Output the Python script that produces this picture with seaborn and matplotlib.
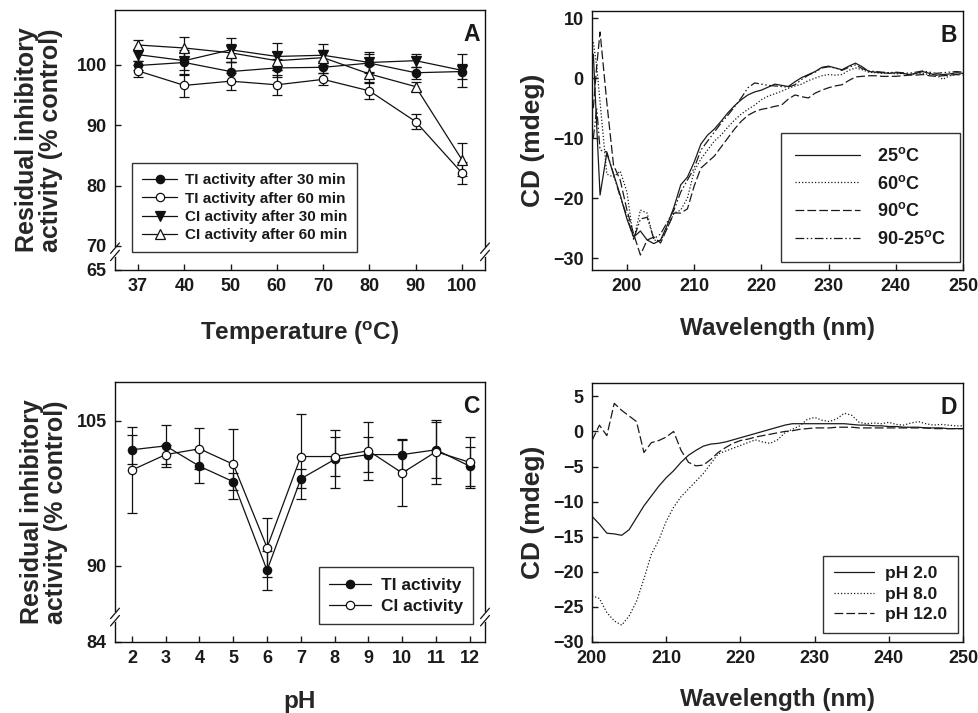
import numpy as np
import pandas as pd
import matplotlib
matplotlib.use("Agg")
import matplotlib.pyplot as plt
import seaborn as sns
from matplotlib.ticker import FixedLocator, FixedFormatter

sns.set_theme(style="ticks")
plt.rcParams['font.family'] = ['Liberation Sans', 'DejaVu Sans']
plt.rcParams.update({
    'font.weight': 'bold',
    'mathtext.fontset': 'custom',
    'mathtext.rm': 'Liberation Sans:bold',
    'mathtext.bf': 'Liberation Sans:bold',
    'mathtext.it': 'Liberation Sans:bold',
    'axes.linewidth': 1.0,
    'axes.edgecolor': '#111111',
    'xtick.direction': 'in',
    'ytick.direction': 'in',
    'xtick.major.size': 4,
    'ytick.major.size': 4,
    'text.color': '#1a1a1a',
    'xtick.color': '#1a1a1a',
    'ytick.color': '#1a1a1a',
})

# ---- Panel A: thermal stability ----
temps = ["37", "40", "50", "60", "70", "80", "90", "100"]
ti30 = [99.9, 100.4, 98.9, 99.5, 99.6, 100.3, 98.7, 98.9]
ti30_err = [0.8, 2.0, 1.5, 1.5, 1.0, 1.5, 1.0, 1.3]
ti60 = [99.0, 96.6, 97.3, 96.7, 97.6, 95.7, 90.6, 82.1]
ti60_err = [1.0, 1.9, 1.4, 1.7, 1.0, 1.4, 1.3, 1.8]
ci30 = [101.7, 100.7, 102.5, 101.4, 101.6, 100.4, 100.7, 99.1]
ci30_err = [1.0, 1.5, 2.0, 2.3, 1.8, 1.8, 1.1, 2.7]
ci60 = [103.3, 102.8, 102.0, 100.7, 101.2, 98.5, 96.4, 84.3]
ci60_err = [0.9, 1.8, 1.5, 1.5, 1.2, 1.5, 0.8, 2.7]

# ---- Panel B: CD spectra at temperatures ----
wl_b = [195, 195.5] + list(range(196, 251))
cd_25 = [4, -8, -19.5, -12.5, -16, -19.5, -23.5, -26.5, -25.5, -27, -27.6,
         -27, -24.5, -21.5, -17.8, -16.5, -14, -11, -9.5, -8.5, -7.2,
         -5.8, -4.6, -3.6, -2.8, -2.3, -2.0, -1.5, -1.0, -1.2, -1.4,
         -0.6, 0.1, 0.6, 1.1, 1.8, 2.0, 1.7, 1.4, 2.0, 2.5,
         1.9, 1.1, 1.0, 0.9, 0.8, 0.9, 0.8, 0.6, 0.8, 1.1,
         0.8, 0.5, 0.6, 0.7, 0.9, 0.8]
cd_60 = [6, 2, -4, -16, -16.5, -15.5, -19, -27, -22, -22.5, -27,
         -27.2, -25, -22.5, -22, -20, -15.5, -13.5, -12, -10.5, -9.5,
         -8.2, -7, -6, -5.2, -4.5, -3.6, -3.0, -2.6, -2.2, -1.7,
         -1.3, -1.0, -0.4, 0.0, 0.4, 0.6, 0.5, 0.6, 1.3, 1.7,
         1.4, 1.0, 0.9, 0.8, 0.9, 0.7, 0.8, 0.6, 0.7, 0.8,
         0.6, 0.5, -0.2, 0.4, 0.6, 0.7]
cd_90 = [-5, 2, 7.7, -4, -14.5, -17, -22, -26, -29.5, -27, -26.5,
         -27.5, -25, -22.5, -22.5, -21.8, -18, -15, -14, -13, -11.5,
         -10, -8.5, -7.2, -6.2, -5.6, -5.2, -5.0, -4.7, -4.5, -3.5,
         -2.8, -3.1, -3.3, -2.5, -2.0, -1.6, -1.3, -1.1, -0.4, 0.2,
         0.3, 0.4, 0.4, 0.3, 0.3, 0.3, 0.4, 0.5, 0.5, 0.6,
         0.4, 0.3, 0.4, 0.5, 0.6, 0.5]
cd_9025 = [-10, -5, -12, -12.3, -16, -19.8, -23, -26.8, -23.5, -23.2, -26.8,
           -26, -24, -22, -19, -17, -15, -12, -10.5, -9, -7.5,
           -6.2, -4.8, -3.3, -1.6, -0.8, -1.0, -1.2, -1.3, -1.4, -1.5,
           -1.1, -0.2, 0.5, 1.0, 1.7, 1.9, 1.7, 1.3, 1.8, 2.2,
           1.6, 1.2, 1.1, 1.0, 0.9, 1.0, 0.9, 0.8, 1.0, 1.2,
           1.0, 0.8, 0.9, 1.0, 1.1, 1.0]
temp_labels = ["25$^{o}$C", "60$^{o}$C", "90$^{o}$C", "90-25$^{o}$C"]

# ---- Panel C: pH stability ----
ph = [2, 3, 4, 5, 6, 7, 8, 9, 10, 11, 12]
ti_ph = [102.0, 102.4, 100.3, 98.7, 89.55, 99.0, 101.0, 101.5, 101.5, 102.0, 100.3]
ti_ph_err = [1.5, 2.2, 1.7, 0.9, 2.0, 1.0, 3.0, 1.8, 1.6, 2.9, 2.0]
ci_ph = [99.9, 101.5, 102.1, 100.5, 91.9, 101.3, 101.3, 101.9, 99.6, 101.8, 100.7]
ci_ph_err = [4.4, 1.0, 2.1, 3.6, 3.0, 4.4, 2.0, 3.0, 3.4, 3.3, 2.6]

# ---- Panel D: CD spectra at pH ----
wl_d = list(range(200, 251))
cd_ph2 = [-12.1, -13.2, -14.5, -14.6, -14.8, -14.0, -12.3, -10.6, -9.2, -7.8,
          -6.6, -5.6, -4.4, -3.4, -2.7, -2.1, -1.8, -1.7, -1.5, -1.2,
          -0.9, -0.6, -0.3, 0.0, 0.3, 0.6, 0.9, 1.1, 1.1, 1.1,
          1.1, 1.1, 1.1, 1.1, 1.1, 1.0, 0.9, 0.9, 0.8, 0.8,
          0.7, 0.7, 0.6, 0.6, 0.6, 0.5, 0.5, 0.5, 0.4, 0.4, 0.4]
cd_ph8 = [-23.4, -23.8, -25.8, -27.0, -27.6, -26.3, -24.2, -21.0, -17.5, -15.5,
          -12.8, -10.8, -9.3, -8.2, -7.1, -6.0, -4.6, -3.2, -2.8, -2.4,
          -2.0, -1.6, -1.2, -1.5, -1.7, -1.2, -0.2, 0.3, 0.8, 1.7,
          2.0, 1.6, 1.4, 1.8, 2.6, 2.3, 1.3, 1.1, 1.2, 1.1,
          1.3, 1.0, 0.9, 1.2, 1.4, 1.1, 0.9, 1.0, 0.9, 0.8, 0.8]
cd_ph12 = [-1.3, 0.9, -0.6, 4.0, 3.0, 2.2, 1.4, -3.0, -1.6, -1.3,
           -0.8, 0.0, -2.7, -4.4, -4.9, -4.8, -4.0, -3.0, -2.3, -1.7,
           -1.3, -1.1, -0.8, -0.6, -0.4, -0.2, 0.0, 0.1, 0.3, 0.4,
           0.5, 0.5, 0.5, 0.6, 0.6, 0.6, 0.5, 0.5, 0.5, 0.5,
           0.5, 0.5, 0.5, 0.5, 0.5, 0.5, 0.4, 0.4, 0.4, 0.4, 0.4]
ph_labels = ["pH 2.0", "pH 8.0", "pH 12.0"]


def broken(b, k):
    def fwd(v):
        v = np.asarray(v, float)
        return np.where(v >= b, v, b - (b - v) * k)

    def inv(u):
        u = np.asarray(u, float)
        return np.where(u >= b, u, b - (b - u) / k)
    return fwd, inv


def break_marks(ax, yb):
    for x in (0, 1):
        ax.plot([x, x], [yb - 0.012, yb + 0.012], transform=ax.transAxes,
                color='white', lw=3, clip_on=False, zorder=5)
        for dy in (-0.014, 0.014):
            ax.plot([x - 0.012, x + 0.012], [yb + dy - 0.02, yb + dy + 0.02],
                    transform=ax.transAxes, color='#111111', lw=0.9,
                    clip_on=False, zorder=6)


def style_ax(ax, xlabel, ylabel, letter, ylab_x, xlab_y, ysize=18):
    ax.set_xlabel(xlabel, fontsize=17.5, fontweight='bold')
    ax.set_ylabel(ylabel, fontsize=ysize, fontweight='bold', linespacing=1.0)
    ax.yaxis.set_label_coords(ylab_x, 0.5)
    ax.xaxis.set_label_coords(0.5, xlab_y)
    ax.xaxis.label.set_va('top')
    ax.tick_params(labelsize=13, top=False, right=False, pad=6, width=1)
    for lab in ax.get_xticklabels() + ax.get_yticklabels():
        lab.set_fontweight('bold')
    ax.text(0.985, 0.95, letter, transform=ax.transAxes, ha='right', va='top',
            fontsize=16.5, fontweight='bold')


def series_plot(ax, x, y, err, marker, fill):
    ax.errorbar(x, y, yerr=err, fmt='none', ecolor='#111111', elinewidth=0.9,
                capsize=3.5, capthick=0.9, zorder=2)
    sns.lineplot(x=x, y=y, ax=ax, color='#111111', lw=0.9, marker=marker,
                 markersize=6 if marker == 'o' else 6.5, markerfacecolor=fill,
                 markeredgecolor='#111111', markeredgewidth=0.9, zorder=3,
                 sort=False)
    return ax.lines[-1]


LEG = dict(loc='lower left', borderaxespad=0, frameon=True, fancybox=False,
           edgecolor='#333333', framealpha=1)

fig = plt.figure(figsize=(9.79, 7.13), dpi=100)
axA = fig.add_axes([115 / 979, 1 - 270 / 713, 370 / 979, 260 / 713])
axB = fig.add_axes([592 / 979, 1 - 270 / 713, 371 / 979, 259 / 713])
axC = fig.add_axes([115 / 979, 1 - 642 / 713, 370 / 979, 260 / 713])
axD = fig.add_axes([592 / 979, 1 - 642 / 713, 371 / 979, 259 / 713])

# Panel A
xa = list(range(len(temps)))
axA.set_yscale('function', functions=broken(70, 0.8))
hA = [series_plot(axA, xa, ti30, ti30_err, 'o', '#111111'),
      series_plot(axA, xa, ti60, ti60_err, 'o', 'white'),
      series_plot(axA, xa, ci30, ci30_err, 'v', '#111111'),
      series_plot(axA, xa, ci60, ci60_err, '^', 'white')]
axA.set_xlim(-0.5, 7.5)
axA.set_ylim(65, 109.1)
axA.xaxis.set_major_locator(FixedLocator(xa))
axA.xaxis.set_major_formatter(FixedFormatter(temps))
axA.yaxis.set_major_locator(FixedLocator([65, 70, 80, 90, 100]))
axA.yaxis.set_major_formatter(FixedFormatter(["65", "70", "80", "90", "100"]))
axA.yaxis.set_minor_locator(FixedLocator([]))
axA.legend(hA, ["TI activity after 30 min", "TI activity after 60 min",
                "CI activity after 30 min", "CI activity after 60 min"],
           bbox_to_anchor=(0.046, 0.069), prop={'size': 11, 'weight': 'bold'},
           handlelength=2.3, handletextpad=0.5, borderpad=0.65,
           labelspacing=0.28, **LEG)
break_marks(axA, 0.07)
style_ax(axA, "Temperature ($^{o}$C)", "Residual inhibitory\nactivity (% control)",
         "A", -0.14, -0.19)

# Panel B
dfB = pd.DataFrame({
    'wl': wl_b * 4,
    'cd': cd_25 + cd_60 + cd_90 + cd_9025,
    'temp': sum([[lab] * len(wl_b) for lab in temp_labels], []),
})
sns.lineplot(data=dfB, x='wl', y='cd', style='temp', style_order=temp_labels,
             dashes={temp_labels[0]: '', temp_labels[1]: (1, 1.6),
                     temp_labels[2]: (7, 2.5), temp_labels[3]: (7, 2, 1.2, 2, 1.2, 2)},
             color='#1a1a1a', lw=0.9, ax=axB, legend=False)
axB.set_xlim(194.8, 250)
axB.set_ylim(-32, 11.2)
axB.set_xticks([200, 210, 220, 230, 240, 250])
axB.set_yticks([-30, -20, -10, 0, 10])
axB.legend(axB.lines[:4], temp_labels, bbox_to_anchor=(0.509, 0.031),
           prop={'size': 13, 'weight': 'bold'}, handlelength=3.6,
           handletextpad=0.95, borderpad=0.78, labelspacing=0.53, **LEG)
style_ax(axB, "Wavelength (nm)", "CD (mdeg)", "B", -0.127, -0.18, ysize=19)

# Panel C
axC.set_yscale('function', functions=broken(86, 1.93))
hC = [series_plot(axC, ph, ti_ph, ti_ph_err, 'o', '#111111'),
      series_plot(axC, ph, ci_ph, ci_ph_err, 'o', 'white')]
axC.set_xlim(1.5, 12.45)
axC.set_ylim(84, 109)
axC.set_xticks(ph)
axC.yaxis.set_major_locator(FixedLocator([84, 90, 105]))
axC.yaxis.set_major_formatter(FixedFormatter(["84", "90", "105"]))
axC.yaxis.set_minor_locator(FixedLocator([]))
axC.legend(hC, ["TI activity", "CI activity"], bbox_to_anchor=(0.551, 0.069),
           prop={'size': 12.5, 'weight': 'bold'}, handlelength=2.4,
           handletextpad=0.57, borderpad=0.6, labelspacing=0.32, **LEG)
break_marks(axC, 0.096)
style_ax(axC, "pH", "Residual inhibitory\nactivity (% control)", "C", -0.127, -0.185)

# Panel D
dfD = pd.DataFrame({
    'wl': wl_d * 3,
    'cd': cd_ph2 + cd_ph8 + cd_ph12,
    'ph': sum([[lab] * len(wl_d) for lab in ph_labels], []),
})
sns.lineplot(data=dfD, x='wl', y='cd', style='ph', style_order=ph_labels,
             dashes={ph_labels[0]: '', ph_labels[1]: (1, 1.6), ph_labels[2]: (7, 2.5)},
             color='#1a1a1a', lw=0.9, ax=axD, legend=False)
axD.set_xlim(200, 250)
axD.set_ylim(-30, 6.9)
axD.set_xticks([200, 210, 220, 230, 240, 250])
axD.set_yticks([-30, -25, -20, -15, -10, -5, 0, 5])
axD.legend(axD.lines[:3], ph_labels, bbox_to_anchor=(0.623, 0.035),
           prop={'size': 12.5, 'weight': 'bold'}, handlelength=2.3,
           handletextpad=0.63, borderpad=0.62, labelspacing=0.3, **LEG)
style_ax(axD, "Wavelength (nm)", "CD (mdeg)", "D", -0.127, -0.178, ysize=19)

fig.savefig("out.png", dpi=100)
